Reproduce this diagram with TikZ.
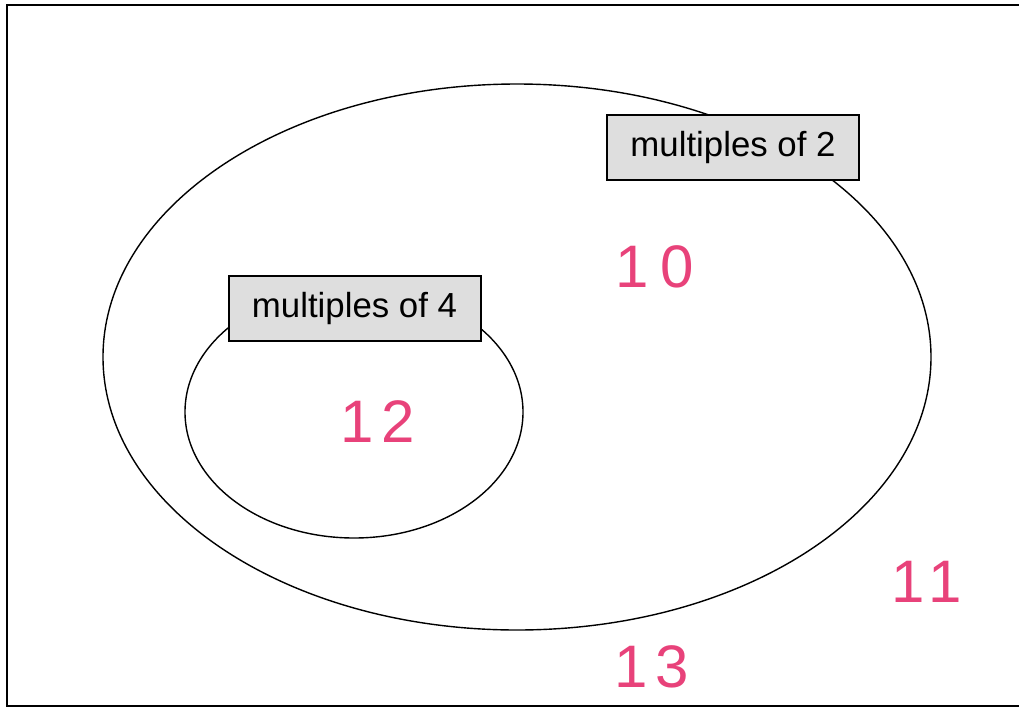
\documentclass[tikz,border=0pt]{standalone}
\usepackage{fontspec}
\setmainfont{Liberation Sans}
\usetikzlibrary{positioning}
\definecolor{penpink}{RGB}{232,66,122}
\tikzset{setbox/.style={draw,line width=1pt,fill=black!13,minimum width=126pt,minimum height=32.5pt,
  inner sep=0pt,font=\fontsize{17.4}{20}\selectfont},
 hand/.style={text=penpink,font=\fontsize{30}{32}\selectfont}}

\begin{document}
\begin{tikzpicture}[x=0.5pt,y=-0.5pt]
\useasboundingbox (0,0) rectangle (1019,708);
\draw[line width=1pt] (1019,5)--(7,5)--(7,706)--(1019,706);
\draw[line width=0.7pt] (517,357) ellipse [x radius=414,y radius=273];
\draw[line width=0.7pt] (354,412) ellipse [x radius=169,y radius=126];
\node[setbox] (two) at (733,147.5) {multiples of 2};
\node[setbox] (four) at (354.5,308.5) {multiples of 4};
\node[hand] (ten) at (655,267) {1\hspace{6pt}0};
\node[hand] (twelve) at (378,422) {1\hspace{4pt}2};
\node[hand] (eleven) at (927,582) {1\hspace{2pt}1};
\node[hand] (thirteen) at (652,667) {1\hspace{4pt}3};
\end{tikzpicture}
\end{document}
